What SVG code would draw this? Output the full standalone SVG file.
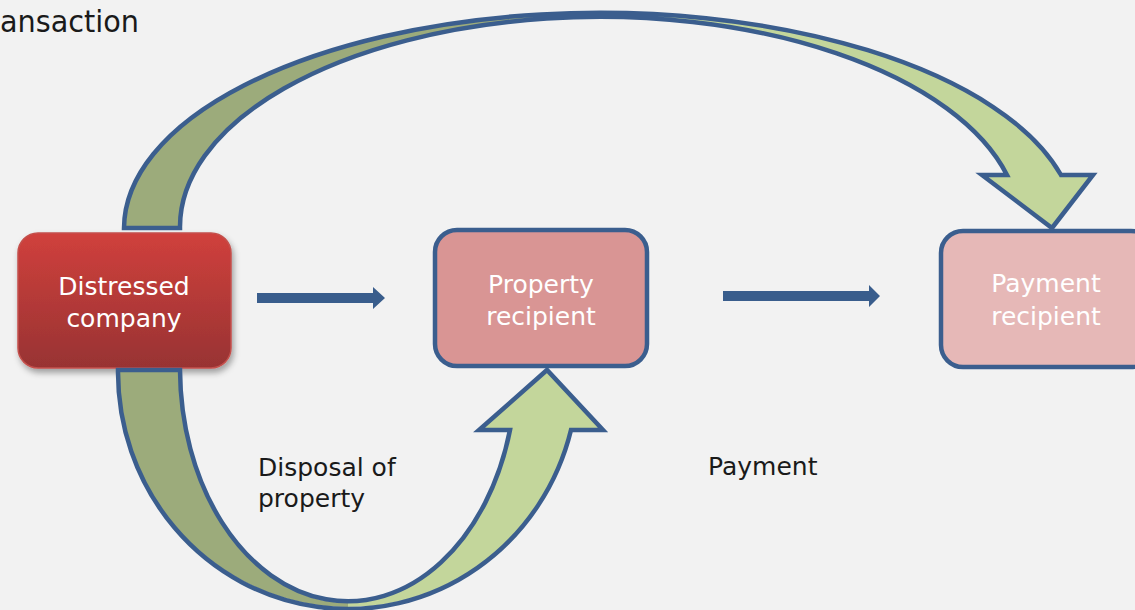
<svg xmlns="http://www.w3.org/2000/svg" width="1135" height="610" viewBox="0 0 1135 610">
  <defs>
    <linearGradient id="redFill" x1="0" y1="0" x2="0" y2="1">
      <stop offset="0" stop-color="#d0403c"/>
      <stop offset="1" stop-color="#983333"/>
    </linearGradient>
    <filter id="softShadow" x="-20%" y="-20%" width="140%" height="150%">
      <feDropShadow dx="2" dy="4" stdDeviation="3" flood-color="#000" flood-opacity="0.35"/>
    </filter>
    <style>
      .box { stroke: #3b5e8e; stroke-width: 4.5; }
      .outline { fill: none; stroke: #3b5e8e; stroke-width: 4.5; stroke-linejoin: miter; stroke-miterlimit: 10; }
      .dark { fill: #9cab7b; }
      .light { fill: #c3d69b; }
      .flow { fill: #395d8c; }
      .boxText { font-family: "DejaVu Sans", "Liberation Sans", sans-serif; font-size: 25px; fill: #ffffff; text-anchor: middle; }
      .label { font-family: "DejaVu Sans", "Liberation Sans", sans-serif; font-size: 25px; fill: #1a1a1a; }
      .title { font-family: "DejaVu Sans", "Liberation Sans", sans-serif; font-size: 31px; fill: #1a1a1a; }
    </style>
  </defs>

  <rect x="0" y="0" width="1135" height="610" fill="#f2f2f2"/>

  <text class="title" x="0" y="32" textLength="139" lengthAdjust="spacingAndGlyphs">ansaction</text>

  <!-- nodes -->
  <g id="distressed-company">
    <rect x="18" y="233" width="213" height="135" rx="20" fill="url(#redFill)" stroke="#c4504c" stroke-width="1.5" filter="url(#softShadow)"/>
    <text class="boxText" x="124" y="295">Distressed</text>
    <text class="boxText" x="124" y="327">company</text>
  </g>

  <g id="property-recipient">
    <rect class="box" x="435" y="230" width="212" height="136" rx="22" fill="#d99594"/>
    <text class="boxText" x="541" y="293">Property</text>
    <text class="boxText" x="541" y="325">recipient</text>
  </g>

  <g id="payment-recipient">
    <rect class="box" x="941" y="231" width="212" height="136" rx="22" fill="#e6b8b7"/>
    <text class="boxText" x="1046" y="292">Payment</text>
    <text class="boxText" x="1046" y="325">recipient</text>
  </g>

  <!-- connectors -->
  <g id="connectors">
    <!-- straight flow arrows -->
    <path class="flow" d="M257 293 H373 V287 L385 298 L373 309 V303 H257 Z"/>
    <path class="flow" d="M723 291 H869 V285 L880 296 L869 307 V301 H723 Z"/>

    <!-- upper curved arrow: Distressed company to Payment recipient -->
    <path class="dark" d="M124 228 A476 216 0 0 1 600 12 L600 18 A420 210 0 0 0 180 228 Z"/>
    <path class="light" d="M600 12 A476 216 0 0 1 1061 175 L1093 175 L1052 228 L982 175 L1007 175 A420 210 0 0 0 600 18 Z"/>
    <path class="outline" d="M124 228 A476 216 0 0 1 1061 175 L1093 175 L1052 228 L982 175 L1007 175 A420 210 0 0 0 180 228 Z"/>

    <!-- lower curved arrow: Distressed company to Property recipient -->
    <path class="dark" d="M118 370 A230 237 0 0 0 348 607 L348 603 A168 233 0 0 1 180 370 Z"/>
    <path class="light" d="M348 607 A230 237 0 0 0 571 430 L603 430 L547 370 L479 430 L510 430 A168 233 0 0 1 348 603 Z"/>
    <path class="outline" d="M118 370 A230 237 0 0 0 571 430 L603 430 L547 370 L479 430 L510 430 A168 233 0 0 1 180 370 Z"/>
  </g>

  <!-- labels -->
  <text class="label" x="258" y="476">Disposal of</text>
  <text class="label" x="258" y="507">property</text>
  <text class="label" x="708" y="475">Payment</text>
</svg>
